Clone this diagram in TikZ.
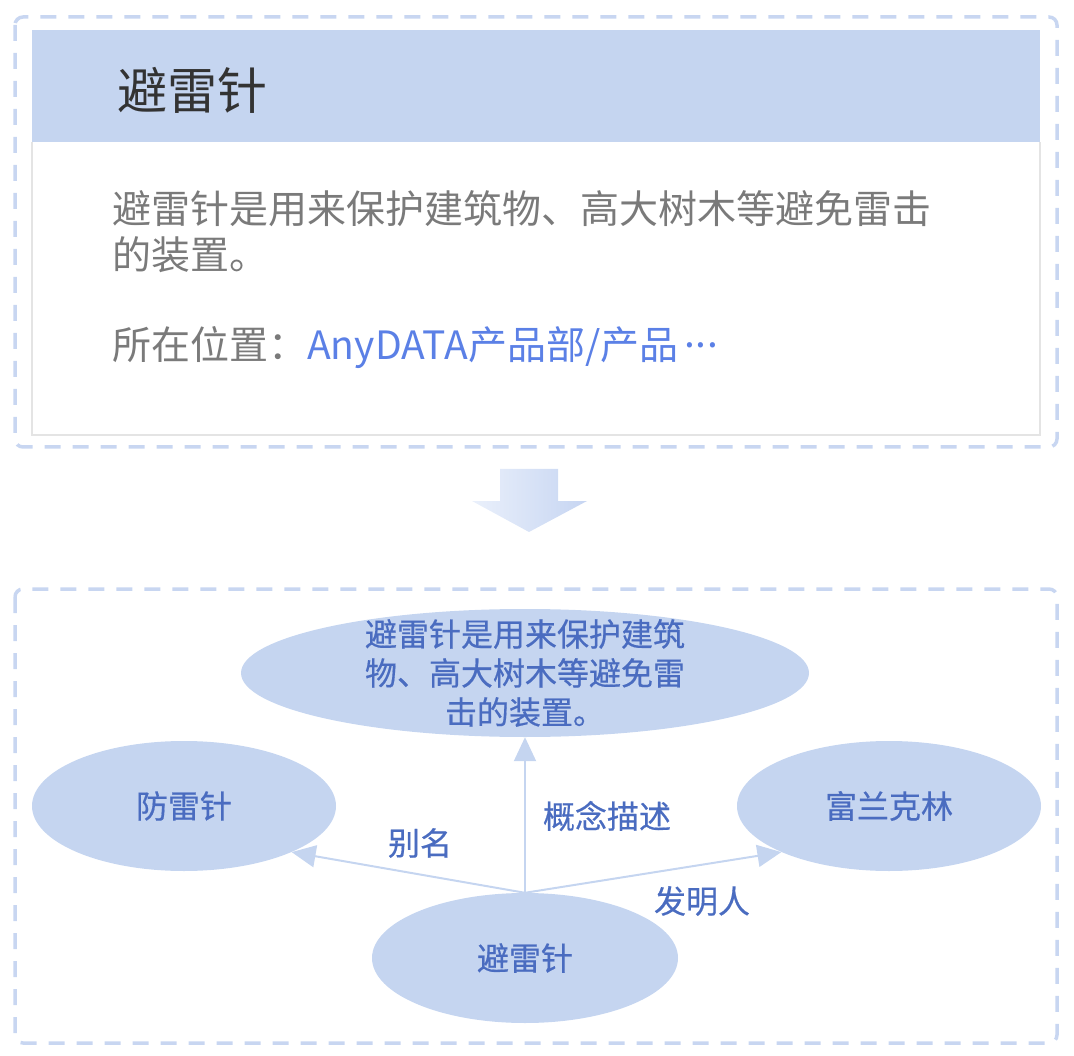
\documentclass[tikz,border=0pt]{standalone}
\usepackage{fontspec}
\usepackage{xcolor,tikz}
\usetikzlibrary{positioning,calc,shapes.geometric,arrows.meta}
\newfontfamily\cjk{Noto Sans CJK SC}
\newfontfamily\cjkbold[FakeBold=0.5]{Noto Sans CJK SC}
\definecolor{kgFill}{HTML}{C5D5F0}
\definecolor{kgDash}{HTML}{C8D6F1}
\definecolor{kgText}{HTML}{4A6CC0}
\definecolor{kgLink}{HTML}{5B80E6}
\definecolor{kgGrey}{HTML}{7A7A7A}
\definecolor{kgDark}{HTML}{333333}
\definecolor{kgBorder}{HTML}{E4E4E4}
\definecolor{kgArrowL}{HTML}{EAF0FB}
\definecolor{kgArrowR}{HTML}{C6D5F2}

\tikzset{
  panel/.style={draw=kgDash, line width=3.5pt, dash pattern=on 16pt off 12pt,
    rounded corners=8pt},
  entity/.style={ellipse, fill=kgFill, inner sep=0pt,
    font=\cjkbold\fontsize{32}{39}\selectfont, text=kgText},
  rellabel/.style={font=\cjkbold\fontsize{32}{39}\selectfont, text=kgText,
    inner sep=0pt},
  rel/.style={draw=kgFill, line width=2pt,
    -{Triangle[length=24pt, width=22pt]}},
}

\begin{document}
\begin{tikzpicture}[x=1pt, y=-1pt]

\useasboundingbox (0,0) rectangle (1074,1056);

% --- CARD (top) ---
\draw[panel] (15,17) rectangle (1057,447);
\fill[kgFill] (32,30) rectangle (1040,142);
\draw[kgBorder, line width=2pt]
  (32,142) -- (32,435) -- (1040,435) -- (1040,142);
\node[anchor=west, inner sep=0pt, text=kgDark,
      font=\cjk\fontsize{50}{54}\selectfont] (title) at (117,90) {避雷针};
\node[anchor=north west, align=left, inner sep=0pt, text=kgGrey,
      font=\cjk\fontsize{39}{46}\selectfont] (descr) at (112,190)
  {避雷针是用来保护建筑物、高大树木等避免雷击\\的装置。};
\node[anchor=west, inner sep=0pt, text=kgGrey,
      font=\cjk\fontsize{39}{46}\selectfont] (loc) at (112,348)
  {所在位置：\textcolor{kgLink}{AnyDATA产品部/产品\kern0.15em%
   \raisebox{0.32em}{.\kern0.02em.\kern0.02em.}}};

% --- DOWN ARROW ---
\shade[left color=kgArrowL, right color=kgArrowR]
  (500,469) -- (558,469) -- (558,501) -- (587,501) -- (529,532)
  -- (472,501) -- (500,501) -- cycle;

% --- GRAPH (bottom) ---
\draw[panel] (15,589) rectangle (1057,1043);

\node[entity, minimum width=568pt, minimum height=128pt] (concept)
  at (525,673) {};
\node[rellabel, align=center] (conceptText) at (concept.center)
  {避雷针是用来保护建筑\\物、高大树木等避免雷\\击的装置。};
\node[entity, minimum width=304pt, minimum height=130pt] (alias)
  at (184,806) {防雷针};
\node[entity, minimum width=304pt, minimum height=130pt] (inventor)
  at (889,806) {富兰克林};
\node[entity, minimum width=306pt, minimum height=130pt] (root)
  at (525,958) {避雷针};

% --- RELATIONS ---
\draw[rel] (root.north) -- (alias.south east);
\draw[rel] (root.north) -- (concept.south);
\draw[rel] (root.north) -- (inventor.south west);

\node[rellabel] (aliasLbl) at (420,843) {别名};
\node[rellabel] (conceptLbl) at (607,816) {概念描述};
\node[rellabel] (inventorLbl) at (702,901) {发明人};

\end{tikzpicture}
\end{document}
